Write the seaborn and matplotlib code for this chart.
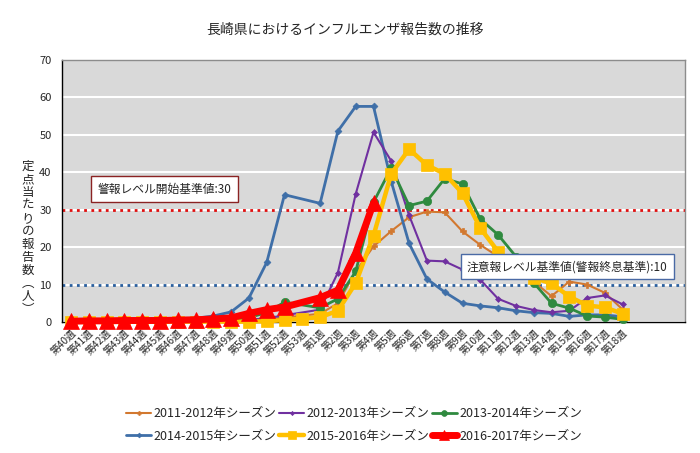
import numpy as np
import pandas as pd
import matplotlib
matplotlib.use("Agg")
import matplotlib.pyplot as plt
import seaborn as sns

weeks = [f"第{w}週" for w in range(40, 54)] + [f"第{w}週" for w in range(1, 19)] + ["", "", ""]

N = None
s2011 = [0.1, 0.1, 0.1, 0.1, 0.1, 0.2, 0.2, 0.2, 0.3, 0.4, 0.5, 0.7, 1.2, N,
         2.2, 5.0, 13.5, 20.2, 24.3, 28.0, 29.5, 29.3, 24.2, 20.6, 17.5, 14.4, 10.8, 6.9, 10.8, 10.0, 7.8, 3.3]
s2012 = [0.1, 0.1, 0.1, 0.1, 0.1, 0.1, 0.2, 0.2, 0.3, 0.4, 0.6, 1.0, 1.8, N,
         3.3, 13.2, 34.2, 50.7, 43.0, 28.5, 16.4, 16.2, 14.0, 11.3, 6.2, 4.3, 3.2, 2.6, 3.0, 6.4, 7.1, 4.7]
s2013 = [0.1, 0.1, 0.1, 0.1, 0.1, 0.2, 0.2, 0.3, 0.4, 0.6, 1.2, 2.5, 5.3, N,
         3.8, 6.2, 13.5, 32.0, 41.2, 31.1, 32.3, 38.3, 36.9, 27.5, 23.3, 17.5, 10.5, 5.0, 3.7, 1.6, 1.3, 0.7]
s2014 = [0.2, 0.2, 0.3, 0.3, 0.4, 0.5, 0.7, 1.0, 1.6, 2.7, 6.4, 15.9, 34.0, N,
         31.7, 51.0, 57.6, 57.6, 37.5, 21.0, 11.5, 8.0, 5.0, 4.3, 3.8, 3.0, 2.5, 2.3, 1.5, 1.9, 1.9, 1.4]
s2015 = [0.1, 0.1, 0.1, 0.1, 0.1, 0.1, 0.1, 0.1, 0.1, 0.1, 0.1, 0.2, 0.5, 0.9,
         1.3, 3.0, 10.4, 23.1, 39.6, 46.2, 41.9, 39.6, 34.4, 25.1, 18.8, 14.6, 11.8, 10.3, 6.8, 4.4, 3.9, 2.2]
s2016 = [0.2, 0.3, 0.3, 0.4, 0.4, 0.4, 0.5, 0.6, 0.8, 1.1, 2.3, 3.3, 4.0, N,
         6.5, 8.5, 18.4, 31.8]

series_names = ["2011-2012年シーズン", "2012-2013年シーズン", "2013-2014年シーズン",
                "2014-2015年シーズン", "2015-2016年シーズン", "2016-2017年シーズン"]
series_vals = [s2011, s2012, s2013, s2014, s2015, s2016]
alert_level = 30
warning_level = 10

styles = [
    dict(color="#d2782f", marker="P", ms=4, lw=1.5, z=3),
    dict(color="#7030a0", marker="D", ms=3, lw=1.5, z=4),
    dict(color="#2f8a3f", marker="o", ms=6, lw=2.0, z=5),
    dict(color="#3f6fa8", marker="D", ms=3.5, lw=2.0, z=3.5),
    dict(color="#ffc000", marker="s", ms=8.5, lw=3.2, z=6),
    dict(color="#ff0000", marker="^", ms=11, lw=5.0, z=7),
]

sns.set_style("white")
plt.rcParams["font.family"] = ["Noto Sans CJK JP", "DejaVu Sans"]

fig = plt.figure(figsize=(7.0, 4.53), dpi=100)
ax = fig.add_axes([62 / 700, 1 - 322 / 453, 623 / 700, 262 / 453])
ax.set_facecolor("#d9d9d9")

for name, vals, st in zip(series_names, series_vals, styles):
    df = pd.DataFrame({"x": np.arange(len(vals)), "y": pd.array(vals, dtype="Float64").astype(float)})
    df = df.dropna()
    sns.lineplot(data=df, x="x", y="y", ax=ax, color=st["color"], marker=st["marker"],
                 markersize=st["ms"], linewidth=st["lw"], markeredgewidth=0.5,
                 markeredgecolor=st["color"], label=name, zorder=st["z"], clip_on=False,
                 legend=False)

ax.axhline(alert_level, color="#e01010", ls=(0, (1, 1.6)), lw=2, zorder=2)
ax.axhline(warning_level, color="#2a5f9e", ls=(0, (1, 1.6)), lw=2, zorder=2)

ax.set_ylim(0, 70)
ax.set_yticks(range(0, 71, 10))
ax.set_xlim(-0.5, len(weeks) - 0.5)
ax.set_xticks(np.arange(len(weeks)))
ax.set_xticklabels(weeks, rotation=45, ha="right", rotation_mode="anchor", fontsize=7.2)
ax.set_xticks(np.arange(len(weeks) + 1) - 0.5, minor=True)
ax.tick_params(axis="x", which="major", length=0, pad=4)
ax.tick_params(axis="x", which="minor", length=4, direction="out", color="black", width=0.8)
ax.tick_params(axis="y", length=4, direction="out", labelsize=8, color="black", width=0.8)
ax.yaxis.grid(True, color="white", lw=1.5)
ax.set_axisbelow(True)
ax.set_xlabel("")
ax.set_ylabel("")
for side in ["left", "bottom"]:
    ax.spines[side].set_color("black")
    ax.spines[side].set_linewidth(1.0)
for side in ["top", "right"]:
    ax.spines[side].set_color("#8c8c8c")
    ax.spines[side].set_linewidth(1.0)

ax.text(0.165, 0.506, "警報レベル開始基準値:30", transform=ax.transAxes, ha="center", va="center",
        fontsize=8.5, zorder=10,
        bbox=dict(boxstyle="square,pad=0.55", fc="white", ec="#8b2323", lw=1))
ax.text(0.811, 0.211, "注意報レベル基準値(警報終息基準):10", transform=ax.transAxes, ha="center", va="center",
        fontsize=8.5, zorder=10,
        bbox=dict(boxstyle="square,pad=0.5", fc="white", ec="#4a6aa5", lw=1))

fig.text(0.493, 0.934, "長崎県におけるインフルエンザ報告数の推移", ha="center", va="center", fontsize=10)

ylabel = "定点当たりの報告数︵人︶"
fig.text(0.040, 1 - 238 / 453, "\n".join(ylabel), ha="center", va="center", fontsize=9, linespacing=1.0)

handles, labels = ax.get_legend_handles_labels()
order = [0, 3, 1, 4, 2, 5]
fig.legend([handles[i] for i in order], [labels[i] for i in order], ncol=3,
           loc="center", bbox_to_anchor=(0.506, 0.062), frameon=False, fontsize=9,
           handlelength=2.0, columnspacing=0.2, handletextpad=0.2, labelspacing=0.75,
           markerscale=0.7)

fig.savefig("out.png", dpi=100, facecolor="white")
